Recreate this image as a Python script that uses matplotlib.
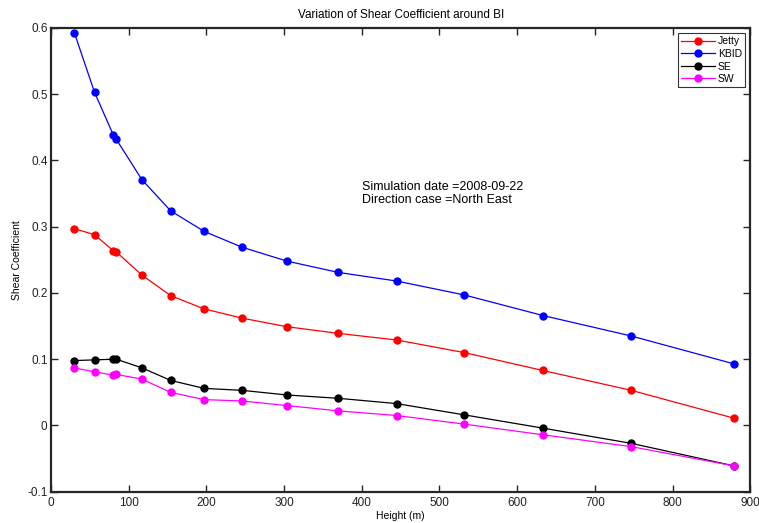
import matplotlib
matplotlib.use("Agg")
import matplotlib.pyplot as plt

plt.rcParams['font.family'] = ['Liberation Sans', 'DejaVu Sans']

# Heights (m) of the measurement levels
height = [30, 56, 80, 84, 117, 154, 197, 246, 304, 370, 445, 532, 633, 747, 879]

# Shear coefficient per site
jetty = [0.297, 0.288, 0.264, 0.262, 0.227, 0.196, 0.176, 0.162, 0.149, 0.139, 0.129, 0.110, 0.083, 0.053, 0.011]
kbid = [0.593, 0.503, 0.439, 0.432, 0.371, 0.324, 0.293, 0.269, 0.248, 0.231, 0.218, 0.197, 0.166, 0.135, 0.093]
se = [0.098, 0.099, 0.100, 0.100, 0.087, 0.068, 0.056, 0.053, 0.046, 0.041, 0.033, 0.016, -0.004, -0.027, -0.061]
sw = [0.087, 0.081, 0.076, 0.077, 0.070, 0.050, 0.039, 0.037, 0.030, 0.022, 0.015, 0.002, -0.014, -0.032, -0.061]

series = [("Jetty", jetty, "#ff0000"), ("KBID", kbid, "#0000ff"),
          ("SE", se, "#000000"), ("SW", sw, "#ff00ff")]

fig = plt.figure(figsize=(7.59, 5.23), dpi=100)
ax = fig.add_axes([0.0672, 0.0598, 0.9213, 0.8867])

for name, vals, col in series:
    ax.plot(height, vals, '-o', color=col, lw=0.9, ms=5, mec=col, mfc=col, label=name)

ax.set_xlim(0, 900)
ax.set_ylim(-0.1, 0.6)
ax.set_xticks(range(0, 901, 100))
ax.set_yticks([-0.1, 0, 0.1, 0.2, 0.3, 0.4, 0.5, 0.6])
ax.set_yticklabels(['-0.1', '0', '0.1', '0.2', '0.3', '0.4', '0.5', '0.6'])
ax.tick_params(direction='in', top=True, right=True, labelsize=8.5, length=5,
               width=1, color='#262626', labelcolor='#222222')
ax.tick_params(axis='y', pad=2.5)
ax.tick_params(axis='x', pad=3.5)
for sp in ax.spines.values():
    sp.set_linewidth(1.6)
    sp.set_color('#262626')

ax.set_title("Variation of Shear Coefficient around BI", fontsize=8.5, pad=7)
ax.set_xlabel("Height (m)", fontsize=7.5, labelpad=2)
ax.set_ylabel("Shear Coefficient", fontsize=7.5)
ax.yaxis.set_label_coords(-0.0415, 0.5)

ax.text(0.445, 0.644, "Simulation date =2008-09-22\nDirection case =North East",
        transform=ax.transAxes, fontsize=9, va='center', ha='left', linespacing=1.1)

leg = ax.legend(loc='upper right', fontsize=7.5, frameon=True, fancybox=False,
                handlelength=3.2, borderaxespad=0.5, borderpad=0.3,
                labelspacing=0.25, handletextpad=0.3, markerscale=1.0)
leg.get_frame().set_edgecolor('black')
leg.get_frame().set_linewidth(0.8)

fig.savefig("out.png", dpi=100)
